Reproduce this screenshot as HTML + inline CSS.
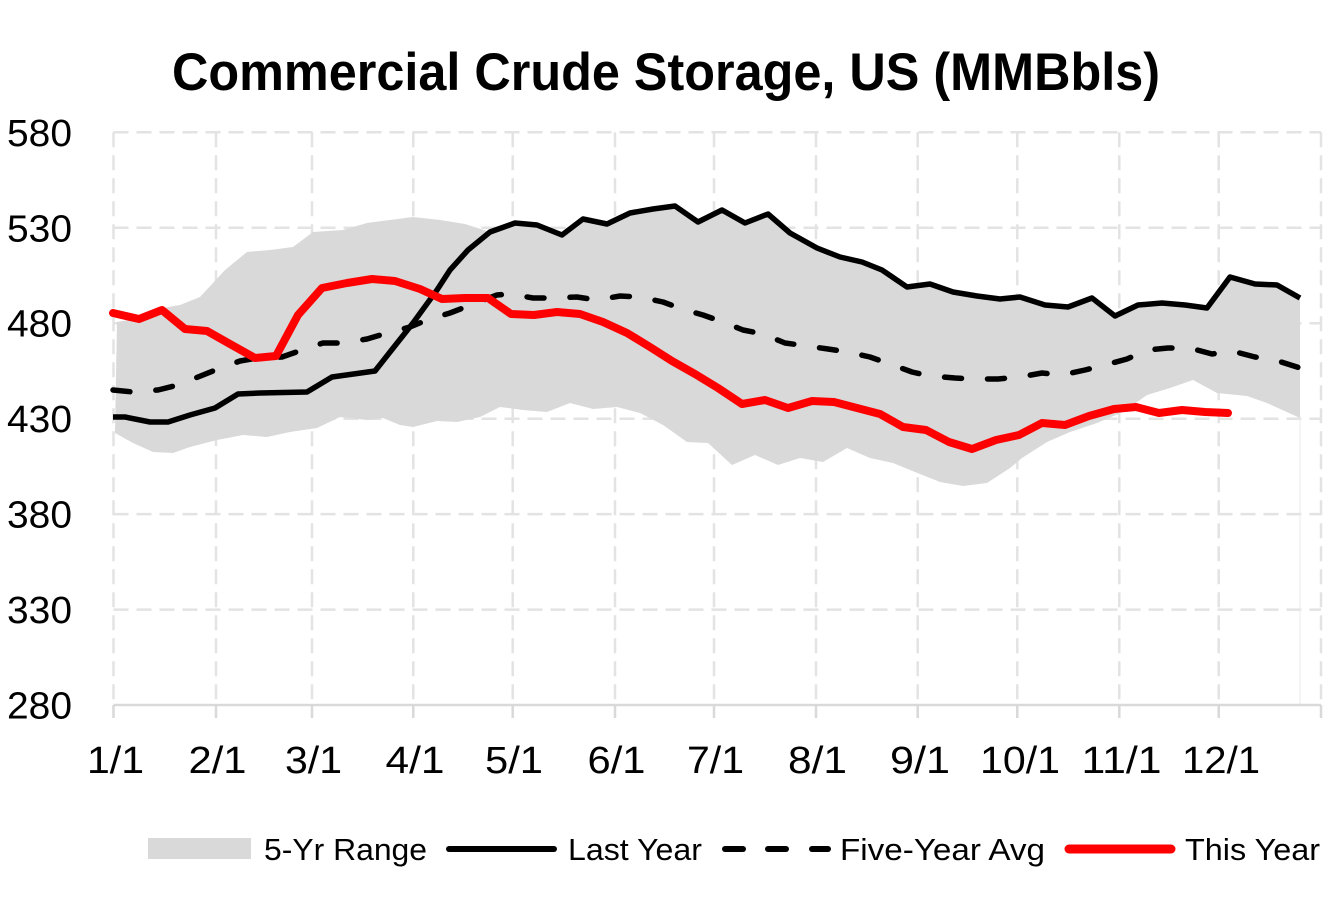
<!DOCTYPE html>
<html><head><meta charset="utf-8"><style>
html,body{margin:0;padding:0;background:#fff;}
svg{display:block;}
text{font-family:"Liberation Sans",sans-serif;fill:#000;}
</style></head><body>
<svg width="1333" height="900" viewBox="0 0 1333 900" xmlns="http://www.w3.org/2000/svg">
<rect width="1333" height="900" fill="#fff"/>
<text x="172" y="90" font-size="53" font-weight="bold" textLength="988" lengthAdjust="spacingAndGlyphs">Commercial Crude Storage, US (MMBbls)</text>
<g stroke="#e3e3e3" stroke-width="2.5" stroke-dasharray="15 8" fill="none">
<line x1="113.5" y1="132.3" x2="1321" y2="132.3"/>
<line x1="113.5" y1="227.8" x2="1321" y2="227.8"/>
<line x1="113.5" y1="323.2" x2="1321" y2="323.2"/>
<line x1="113.5" y1="418.7" x2="1321" y2="418.7"/>
<line x1="113.5" y1="514.1" x2="1321" y2="514.1"/>
<line x1="113.5" y1="609.6" x2="1321" y2="609.6"/>
<line x1="113.5" y1="132.3" x2="113.5" y2="705"/>
<line x1="216" y1="132.3" x2="216" y2="705"/>
<line x1="312" y1="132.3" x2="312" y2="705"/>
<line x1="413.3" y1="132.3" x2="413.3" y2="705"/>
<line x1="512.7" y1="132.3" x2="512.7" y2="705"/>
<line x1="615" y1="132.3" x2="615" y2="705"/>
<line x1="714" y1="132.3" x2="714" y2="705"/>
<line x1="816" y1="132.3" x2="816" y2="705"/>
<line x1="917.7" y1="132.3" x2="917.7" y2="705"/>
<line x1="1017.3" y1="132.3" x2="1017.3" y2="705"/>
<line x1="1119.3" y1="132.3" x2="1119.3" y2="705"/>
<line x1="1218.7" y1="132.3" x2="1218.7" y2="705"/>
<line x1="1321" y1="132.3" x2="1321" y2="705"/>
</g>
<polygon fill="#d9d9d9" points="117,322 140,318 163,308 180,305 200,297 225,270 247,252 270,250 293,247 313,232 343,230 367,223 390,220 413,217 440,220 465,224 490,232 515,223 537,225 562,235 583,219 607,224 630,213 653,209 675,206 698,222 722,210 745,223 768,214 790,233 817,248 840,257 862,262 882,270 907,287 930,284 953,292 977,296 1000,299 1020,297 1045,305 1068,307 1092,298 1115,316 1138,305 1162,303 1185,305 1207,308 1230,277 1255,284 1277,285 1300,298 1300,418 1267,403 1247,396 1217,393 1193,380 1170,388 1147,395 1123,412 1097,423 1070,432 1047,442 1022,458 1010,468 987,483 963,486 940,482 915,472 893,463 870,458 847,448 823,462 800,458 778,465 755,455 732,465 708,443 687,442 663,425 640,413 617,407 593,409 570,403 547,412 523,410 500,407 480,417 457,422 437,421 413,427 400,425 383,418 367,420 340,417 317,428 290,432 267,437 243,435 217,440 190,447 173,453 153,452 133,443 115,433"/>
<line x1="1300" y1="418" x2="1300" y2="705" stroke="#ebebeb" stroke-width="1"/>
<line x1="113.5" y1="705" x2="1321" y2="705" stroke="#d9d9d9" stroke-width="2.5"/>
<g stroke="#d9d9d9" stroke-width="2.5">
<line x1="113.5" y1="705" x2="113.5" y2="718"/>
<line x1="216" y1="705" x2="216" y2="718"/>
<line x1="312" y1="705" x2="312" y2="718"/>
<line x1="413.3" y1="705" x2="413.3" y2="718"/>
<line x1="512.7" y1="705" x2="512.7" y2="718"/>
<line x1="615" y1="705" x2="615" y2="718"/>
<line x1="714" y1="705" x2="714" y2="718"/>
<line x1="816" y1="705" x2="816" y2="718"/>
<line x1="917.7" y1="705" x2="917.7" y2="718"/>
<line x1="1017.3" y1="705" x2="1017.3" y2="718"/>
<line x1="1119.3" y1="705" x2="1119.3" y2="718"/>
<line x1="1218.7" y1="705" x2="1218.7" y2="718"/>
<line x1="1321" y1="705" x2="1321" y2="718"/>
</g>
<polyline fill="none" stroke="#000" stroke-width="5.5" stroke-linecap="round" stroke-linejoin="round" stroke-dasharray="17 26" points="113,390 133,392 158,390 178,385 198,377 218,369 240,361 257,358 282,357 302,350 323,343 343,343 367,339 387,333 410,327 427,320 450,313 468,306 497,295 510,294 533,298 553,298 577,297 597,300 620,296 640,297 663,302 682,309 703,315 723,322 743,330 763,334 785,343 807,346 828,349 848,352 870,357 890,364 912,372 930,376 955,378 975,379 998,379 1020,377 1042,373 1062,375 1085,370 1105,365 1127,359 1147,350 1168,348 1190,348 1212,354 1232,351 1255,357 1275,360 1300,368"/>
<polyline fill="none" stroke="#000" stroke-width="5.5" stroke-linejoin="round" points="113,417 125,417 150,422 168,422 190,415 215,408 238,394 260,393 307,392 332,377 375,371 390,352 413,323 437,290 450,270 468,250 490,232 515,223 537,225 562,235 583,219 607,224 630,213 653,209 675,206 698,222 722,210 745,223 768,214 790,233 817,248 840,257 862,262 882,270 907,287 930,284 953,292 977,296 1000,299 1020,297 1045,305 1068,307 1092,298 1115,316 1138,305 1162,303 1185,305 1207,308 1230,277 1255,284 1277,285 1300,298"/>
<polyline fill="none" stroke="#ff0000" stroke-width="8" stroke-linejoin="round" stroke-linecap="round" points="113,313 139,319 162,310 185,329 207,331 230,344 255,358 276,356 298,315 322,288 347,283 372,279 395,281 420,289 442,299 465,298 488,298 511,314 534,315 557,312 580,314 603,322 627,333 650,347 672,361 695,374 718,388 742,404 765,400 788,408 812,401 834,402 857,408 880,414 903,427 926,430 949,442 972,449 996,440 1019,435 1042,423 1065,425 1089,416 1114,409 1136,407 1159,413 1182,410 1205,412 1228,413"/>
<g font-size="38">
<text x="7" y="145.8" textLength="65" lengthAdjust="spacingAndGlyphs">580</text>
<text x="7" y="241.3" textLength="65" lengthAdjust="spacingAndGlyphs">530</text>
<text x="7" y="336.7" textLength="65" lengthAdjust="spacingAndGlyphs">480</text>
<text x="7" y="432.2" textLength="65" lengthAdjust="spacingAndGlyphs">430</text>
<text x="7" y="527.6" textLength="65" lengthAdjust="spacingAndGlyphs">380</text>
<text x="7" y="623.1" textLength="65" lengthAdjust="spacingAndGlyphs">330</text>
<text x="7" y="718.5" textLength="65" lengthAdjust="spacingAndGlyphs">280</text>
</g>
<g font-size="38" text-anchor="middle">
<text x="115.5" y="773" textLength="57" lengthAdjust="spacingAndGlyphs">1/1</text>
<text x="217.5" y="773" textLength="58" lengthAdjust="spacingAndGlyphs">2/1</text>
<text x="313.5" y="773" textLength="57" lengthAdjust="spacingAndGlyphs">3/1</text>
<text x="415" y="773" textLength="59" lengthAdjust="spacingAndGlyphs">4/1</text>
<text x="514" y="773" textLength="58" lengthAdjust="spacingAndGlyphs">5/1</text>
<text x="616.5" y="773" textLength="58" lengthAdjust="spacingAndGlyphs">6/1</text>
<text x="715.5" y="773" textLength="57" lengthAdjust="spacingAndGlyphs">7/1</text>
<text x="817.5" y="773" textLength="59" lengthAdjust="spacingAndGlyphs">8/1</text>
<text x="920" y="773" textLength="60" lengthAdjust="spacingAndGlyphs">9/1</text>
<text x="1020" y="773" textLength="80" lengthAdjust="spacingAndGlyphs">10/1</text>
<text x="1121.5" y="773" textLength="80" lengthAdjust="spacingAndGlyphs">11/1</text>
<text x="1221" y="773" textLength="78" lengthAdjust="spacingAndGlyphs">12/1</text>
</g>
<rect x="148" y="838" width="103" height="21" fill="#d9d9d9"/>
<line x1="449" y1="849" x2="554" y2="849" stroke="#000" stroke-width="6" stroke-linecap="round"/>
<g stroke="#000" stroke-width="6" stroke-linecap="round">
<line x1="725" y1="849" x2="743" y2="849"/>
<line x1="768" y1="849" x2="786" y2="849"/>
<line x1="812" y1="849" x2="828" y2="849"/>
</g>
<line x1="1069" y1="849" x2="1171" y2="849" stroke="#ff0000" stroke-width="9" stroke-linecap="round"/>
<g font-size="31">
<text x="264" y="860" textLength="163" lengthAdjust="spacingAndGlyphs">5-Yr Range</text>
<text x="568" y="860" textLength="134" lengthAdjust="spacingAndGlyphs">Last Year</text>
<text x="840" y="860" textLength="205" lengthAdjust="spacingAndGlyphs">Five-Year Avg</text>
<text x="1185" y="860" textLength="135" lengthAdjust="spacingAndGlyphs">This Year</text>
</g>
</svg>
</body></html>
